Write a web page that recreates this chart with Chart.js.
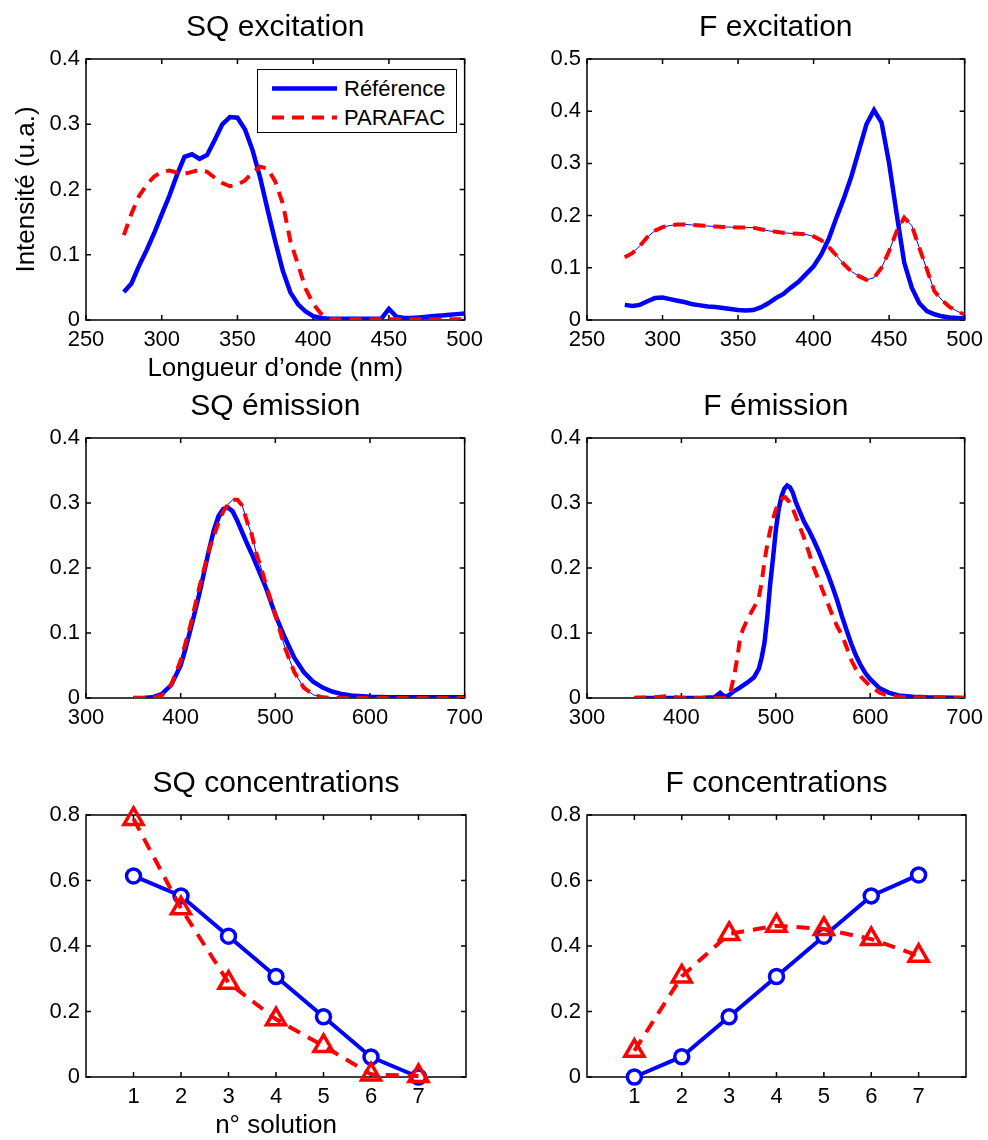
<!DOCTYPE html>
<html>
<head>
<meta charset="utf-8">
<script src="https://cdn.jsdelivr.net/npm/chart.js@4.4.1/dist/chart.umd.min.js"></script>
<style>
  body { margin: 0; background: #fff; }
  #fig { position: relative; width: 988px; height: 1140px; overflow: hidden; background: #fff; }
  #legend { position: absolute; left: 257px; top: 69px; width: 200px; height: 64px; box-sizing: border-box;
            border: 1.5px solid #000; background: #fff; z-index: 5;
            font-family: "Liberation Sans", Arial, Helvetica, sans-serif; font-size: 22px; color: #000; }
  #legend .row { position: absolute; left: 14px; height: 29px; display: flex; align-items: center; }
  #legend svg { display: block; margin-right: 7px; }
</style>
</head>
<body>
<div id="fig"></div>
<script>
// ---- data ----
const excWl = [275,280,285,290,295,300,305,310,315,320,325,330,335,340,345,350,355,360,365,370,375,380,385,390,395,400,405,410,415,420,425,430,435,440,445,450,455,460,465,470,475,480,485,490,495,500];

const sqExcRef = [0.043,0.056,0.083,0.107,0.133,0.162,0.190,0.222,0.250,0.254,0.247,0.253,0.276,0.300,0.311,0.310,0.292,0.260,0.218,0.168,0.120,0.075,0.042,0.024,0.013,0.006,0.003,0.002,0.002,0.002,0.002,0.002,0.002,0.002,0.002,0.017,0.005,0.003,0.003,0.004,0.005,0.006,0.007,0.008,0.009,0.010];
const sqExcPar = [0.130,0.163,0.190,0.207,0.220,0.227,0.229,0.226,0.224,0.227,0.230,0.227,0.218,0.210,0.205,0.207,0.214,0.226,0.235,0.232,0.212,0.178,0.120,0.085,0.048,0.025,0.010,0.002,0.001,0.001,0.001,0.001,0.001,0.001,0.001,0.001,0.001,0.001,0.001,0.001,0.001,0.001,0.001,0.001,0.001,0.001];

const fExcRef = [0.029,0.027,0.029,0.036,0.042,0.043,0.040,0.037,0.034,0.030,0.028,0.026,0.025,0.023,0.021,0.019,0.018,0.019,0.024,0.032,0.042,0.050,0.062,0.073,0.088,0.103,0.125,0.155,0.195,0.233,0.275,0.325,0.375,0.402,0.378,0.300,0.203,0.110,0.062,0.032,0.017,0.011,0.007,0.005,0.004,0.003];
const fExcPar = [0.120,0.128,0.142,0.159,0.171,0.178,0.181,0.183,0.183,0.182,0.181,0.180,0.179,0.178,0.178,0.177,0.177,0.177,0.174,0.171,0.169,0.167,0.166,0.165,0.164,0.160,0.153,0.140,0.124,0.107,0.093,0.084,0.077,0.081,0.100,0.132,0.170,0.196,0.181,0.138,0.097,0.055,0.038,0.025,0.017,0.010];

const sqEmWlRef = [350,360,370,380,390,400,405,410,415,420,425,430,435,440,445,450,455,460,465,470,475,480,490,500,510,520,530,540,550,560,570,580,600,620,650,700];
const sqEmRef = [0,0,0.001,0.006,0.020,0.050,0.075,0.103,0.132,0.162,0.195,0.228,0.258,0.280,0.291,0.293,0.287,0.272,0.255,0.238,0.222,0.205,0.170,0.128,0.093,0.062,0.040,0.025,0.016,0.010,0.006,0.004,0.002,0.001,0.001,0.001];
const sqEmWlPar = [350,370,380,390,400,410,420,430,440,445,450,455,460,465,470,475,480,485,490,500,510,520,530,540,550,560,600,700];
const sqEmPar = [0,0,0.004,0.020,0.058,0.110,0.172,0.228,0.270,0.287,0.298,0.305,0.305,0.296,0.272,0.252,0.222,0.200,0.175,0.128,0.078,0.040,0.016,0.005,0.001,0,0,0];

const fEmWlRef = [350,380,420,435,441,446,450,455,462,470,477,482,485,488,491,494,497,500,503,506,509,512,515,518,521,525,530,535,540,545,550,555,560,565,570,575,580,585,590,595,600,610,620,630,645,660,700];
const fEmRef = [0,0,0,0.001,0.008,0.002,0.004,0.010,0.016,0.024,0.032,0.045,0.062,0.085,0.125,0.175,0.215,0.258,0.290,0.310,0.322,0.327,0.324,0.316,0.302,0.288,0.271,0.258,0.243,0.227,0.209,0.191,0.171,0.150,0.126,0.104,0.083,0.065,0.050,0.038,0.029,0.015,0.008,0.004,0.002,0.001,0];
const fEmWlPar = [350,370,385,395,405,448,452,456,459,462,465,469,474,479,482,485,488,491,494,497,500,503,507,510,514,518,522,526,530,535,540,545,550,555,560,565,570,575,580,585,590,600,610,620,640,700];
const fEmPar = [0,0.001,0.003,0.001,0,0,0.010,0.035,0.060,0.090,0.105,0.118,0.132,0.145,0.155,0.178,0.210,0.237,0.258,0.275,0.290,0.299,0.307,0.309,0.302,0.291,0.276,0.261,0.246,0.224,0.201,0.183,0.164,0.146,0.127,0.110,0.097,0.078,0.058,0.044,0.033,0.018,0.008,0.003,0.001,0];

const solutions = [1,2,3,4,5,6,7];
const sqConcRef = [0.614,0.553,0.430,0.307,0.184,0.061,0];
const sqConcPar = [0.788,0.515,0.288,0.176,0.095,0.008,0.003];
const fConcRef = [0,0.062,0.184,0.307,0.430,0.553,0.617];
const fConcPar = [0.080,0.307,0.437,0.462,0.452,0.421,0.370];

const excTicks = [250,300,350,400,450,500];
const emTicks = [300,400,500,600,700];
const concTicks = [1,2,3,4,5,6,7];
const yTicks4 = [0,0.1,0.2,0.3,0.4];
const yTicks5 = [0,0.1,0.2,0.3,0.4,0.5];
const yTicks8 = [0,0.2,0.4,0.6,0.8];

// ---- styles / helpers ----
const FONT = '"Liberation Sans", Arial, Helvetica, sans-serif';
const BLUE = '#0000ff', RED = '#ff0000';

function pts(xs, ys) {
  return xs.map((x, i) => ({x: x, y: ys[i]}));
}

function ticksFrom(values) {
  return function (scale) { scale.ticks = values.map(v => ({value: v})); };
}

// matlab style box with inward ticks
const boxTicks = {
  id: 'boxTicks',
  beforeDatasetsDraw(chart) {
    const {ctx, chartArea: a, scales: {x, y}} = chart;
    ctx.save();
    ctx.strokeStyle = '#000';
    ctx.lineWidth = 1.5;
    ctx.beginPath();
    x.ticks.forEach(t => {
      const px = x.getPixelForValue(t.value);
      ctx.moveTo(px, a.bottom); ctx.lineTo(px, a.bottom - 5);
      ctx.moveTo(px, a.top); ctx.lineTo(px, a.top + 5);
    });
    y.ticks.forEach(t => {
      const py = y.getPixelForValue(t.value);
      ctx.moveTo(a.left, py); ctx.lineTo(a.left + 5, py);
      ctx.moveTo(a.right, py); ctx.lineTo(a.right - 5, py);
    });
    ctx.stroke();
    ctx.strokeRect(a.left, a.top, a.right - a.left, a.bottom - a.top);
    ctx.restore();
  }
};

const htmlLegend = {
  id: 'htmlLegend',
  afterUpdate(chart, args, opts) {
    const box = document.getElementById(opts.containerID);
    if (!box) return;
    box.innerHTML = '';
    chart.data.datasets.filter(d => d.label).forEach((d, i) => {
      const row = document.createElement('div');
      row.className = 'row';
      row.style.top = (4 + i * 29) + 'px';
      const dash = d.borderDash ? d.borderDash.join(' ') : 'none';
      row.innerHTML = '<svg width="65" height="29"><line x1="0" y1="14.5" x2="65" y2="14.5" stroke="' + d.borderColor +
        '" stroke-width="' + d.borderWidth + '" stroke-dasharray="' + dash + '"/></svg><span>' + d.label + '</span>';
      box.appendChild(row);
    });
  }
};

function spectrumSets(xr, ref, xp, par, thin) {
  const sets = [
    {label: 'Référence', data: pts(xr, ref), borderColor: BLUE, borderWidth: 4.5, order: 3},
    {label: 'PARAFAC', data: pts(xp, par), borderColor: RED, borderWidth: 4, borderDash: [12, 8], order: 1}
  ];
  if (thin) sets.push({label: '', data: pts(xp, par), borderColor: BLUE, borderWidth: 1, order: 2});
  return sets;
}

function concSets(ref, par) {
  return [
    {label: 'Référence', data: pts(solutions, ref), borderColor: BLUE, borderWidth: 4,
     pointStyle: 'circle', pointRadius: 7, pointBorderWidth: 3.5, pointBorderColor: BLUE,
     pointBackgroundColor: '#fff', clip: false, order: 2},
    {label: 'PARAFAC', data: pts(solutions, par), borderColor: RED, borderWidth: 4, borderDash: [13, 9],
     pointStyle: 'triangle', pointRadius: 11, pointBorderWidth: 3.5, pointBorderColor: RED,
     pointBackgroundColor: 'rgba(0,0,0,0)', clip: false, order: 1}
  ];
}

function makeChart(o) {
  const w = 86 + (o.right - o.left) + 24;
  const h = 59 + (o.bottom - o.top) + o.xh;
  const c = document.createElement('canvas');
  c.width = w; c.height = h;
  c.style.cssText = 'position:absolute;left:' + (o.left - 86) + 'px;top:' + (o.top - 59) + 'px;width:' + w + 'px;height:' + h + 'px';
  document.getElementById('fig').appendChild(c);
  const tickFont = {family: FONT, size: 22};
  const labelFont = {family: FONT, size: 26, lineHeight: 1.2};
  return new Chart(c, {
    type: 'line',
    data: {datasets: o.datasets},
    options: {
      responsive: false,
      animation: false,
      events: [],
      elements: {line: {tension: 0, fill: false, borderCapStyle: 'butt'}, point: {radius: 0}},
      layout: {padding: {left: 0, top: 0, right: 24, bottom: 0}},
      plugins: {
        legend: {display: false},
        tooltip: {enabled: false},
        htmlLegend: {containerID: o.legendID || ''},
        title: {display: true, text: o.title, fullSize: false, color: '#000',
                font: {family: FONT, size: 30, weight: 'normal', lineHeight: 1.2},
                padding: {top: 10, bottom: 13}}
      },
      scales: {
        x: {
          type: 'linear', min: o.xMin, max: o.xMax,
          afterBuildTicks: ticksFrom(o.xTicks),
          afterFit: s => { s.height = o.xh; },
          grid: {display: false, drawTicks: false},
          border: {display: false},
          ticks: {color: '#000', font: tickFont, padding: 7, maxRotation: 0, autoSkip: false, callback: v => String(v)},
          title: {display: !!o.xTitle, text: o.xTitle || '', color: '#000', font: labelFont, padding: {top: 0, bottom: 0}}
        },
        y: {
          type: 'linear', min: 0, max: o.yMax,
          afterBuildTicks: ticksFrom(o.yTicks),
          afterFit: s => { s.width = 86; },
          grid: {display: false, drawTicks: false},
          border: {display: false},
          ticks: {color: '#000', font: tickFont, padding: 6, autoSkip: false, callback: v => String(v)},
          title: {display: !!o.yTitle, text: o.yTitle || '', color: '#000', font: labelFont, padding: {top: 11.4, bottom: 0}}
        }
      }
    },
    plugins: [boxTicks, htmlLegend]
  });
}

// ---- figure ----
const legendBox = document.createElement('div');
legendBox.id = 'legend';
document.getElementById('fig').appendChild(legendBox);

makeChart({left: 86, right: 466, top: 59, bottom: 320, xh: 64, title: 'SQ excitation',
  xMin: 250, xMax: 500, xTicks: excTicks, yMax: 0.4, yTicks: yTicks4,
  xTitle: 'Longueur d’onde (nm)', yTitle: 'Intensité (u.a.)', legendID: 'legend',
  datasets: spectrumSets(excWl, sqExcRef, excWl, sqExcPar, false)});

makeChart({left: 587, right: 966, top: 59, bottom: 320, xh: 40, title: 'F excitation',
  xMin: 250, xMax: 500, xTicks: excTicks, yMax: 0.5, yTicks: yTicks5,
  datasets: spectrumSets(excWl, fExcRef, excWl, fExcPar, true)});

makeChart({left: 86, right: 466, top: 438, bottom: 698, xh: 40, title: 'SQ émission',
  xMin: 300, xMax: 700, xTicks: emTicks, yMax: 0.4, yTicks: yTicks4,
  datasets: spectrumSets(sqEmWlRef, sqEmRef, sqEmWlPar, sqEmPar, true)});

makeChart({left: 587, right: 966, top: 438, bottom: 698, xh: 40, title: 'F émission',
  xMin: 300, xMax: 700, xTicks: emTicks, yMax: 0.4, yTicks: yTicks4,
  datasets: spectrumSets(fEmWlRef, fEmRef, fEmWlPar, fEmPar, false)});

makeChart({left: 86, right: 466, top: 815, bottom: 1077, xh: 64, title: 'SQ concentrations',
  xMin: 0, xMax: 8, xTicks: concTicks, yMax: 0.8, yTicks: yTicks8,
  xTitle: 'n° solution',
  datasets: concSets(sqConcRef, sqConcPar)});

makeChart({left: 587, right: 966, top: 815, bottom: 1077, xh: 40, title: 'F concentrations',
  xMin: 0, xMax: 8, xTicks: concTicks, yMax: 0.8, yTicks: yTicks8,
  datasets: concSets(fConcRef, fConcPar)});

document.getElementById('legend').style.zIndex = 10;
</script>
</body>
</html>
